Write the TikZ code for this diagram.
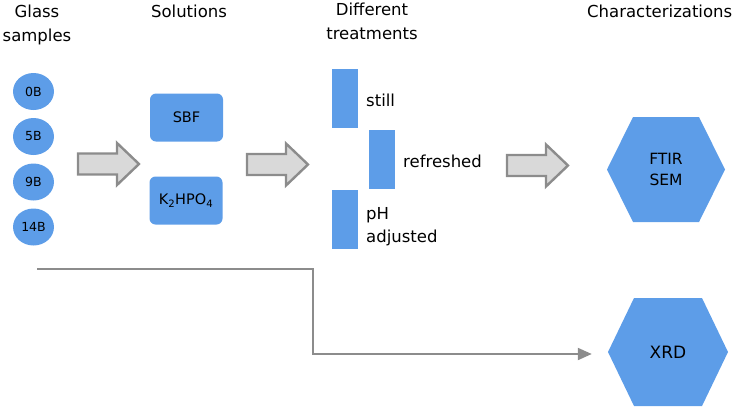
\documentclass[tikz,border=0pt]{standalone}
\usepackage{fontspec}
\setmainfont{DejaVu Sans}
\usetikzlibrary{arrows.meta,calc,shapes.geometric}
\definecolor{boxblue}{RGB}{93,157,232}
\definecolor{arrgray}{RGB}{140,140,140}
\definecolor{arrfill}{RGB}{217,217,217}
\tikzset{
  hdr/.style={align=center,inner sep=0pt,font=\fontsize{16.5}{24}\selectfont},
  sample/.style={ellipse,fill=boxblue,minimum width=41pt,minimum height=37pt,inner sep=0pt,font=\fontsize{12.5}{14}\selectfont},
  solbox/.style={rounded corners=6pt,fill=boxblue,minimum width=73pt,minimum height=48pt,inner sep=0pt,font=\fontsize{14.5}{16}\selectfont},
  bar/.style={fill=boxblue,minimum width=26pt,minimum height=59pt,inner sep=0pt},
  tlabel/.style={anchor=west,align=left,inner sep=0pt,font=\fontsize{16.5}{23}\selectfont},
  hexa/.style={minimum width=#1,inner sep=0pt,align=center,font=\fontsize{15.5}{21}\selectfont,
    path picture={\fill[boxblue] (path picture bounding box.west)
      -- ([xshift=26pt]path picture bounding box.north west)
      -- ([xshift=-26pt]path picture bounding box.north east)
      -- (path picture bounding box.east)
      -- ([xshift=-26pt]path picture bounding box.south east)
      -- ([xshift=26pt]path picture bounding box.south west) -- cycle;}},
  blockarrow/.style={draw=arrgray,fill=arrfill,line width=2.4pt,line join=miter},
  conn/.style={draw=arrgray,line width=2pt,-{Triangle[length=14pt,width=12pt]}}
}
\begin{document}
\begin{tikzpicture}[x=1pt,y=-1pt]
\useasboundingbox (0,0) rectangle (737,408);
% headers
\node[hdr] (h1) at (37,24.5) {Glass\\samples};
\node[hdr] (h2) at (189,11) {Solutions};
\node[hdr] (h3) at (372,21.5) {Different\\treatments};
\node[hdr,anchor=west] (h4) at (587,11) {Characterizations};
% samples
\node[sample] (s0) at (33.5,91.5) {0B};
\node[sample] (s5) at (33.5,136.5) {5B};
\node[sample] (s9) at (33.5,182) {9B};
\node[sample] (s14) at (33.5,227) {14B};
% solutions
\node[solbox] (sbf) at (186.5,117.5) {SBF};
\node[solbox] (khp) at (186,200.5) {K\textsubscript{2}HPO\textsubscript{4}};
% treatments
\node[bar] (b1) at (345,98.5) {};
\node[bar] (b2) at (382,159) {};
\node[bar] (b3) at (345,219) {};
\node[tlabel] (t1) at (366,100) {still};
\node[tlabel] (t2) at (403,161) {refreshed};
\node[tlabel] (t3) at (366,227) {pH\\adjusted};
% characterizations
\node[hexa=118pt,minimum height=105pt] (ftir) at (666,169.5) {FTIR\\SEM};
\node[hexa=120pt,minimum height=108pt,font=\fontsize{17}{20}\selectfont] (xrd) at (668,352) {XRD};
% block arrows
\foreach \x/\y in {78/164, 247/164.5, 507/165.5}{
  \draw[blockarrow] (\x,\y-10.5) -- (\x+39,\y-10.5) -- (\x+39,\y-21) -- (\x+61,\y)
     -- (\x+39,\y+21) -- (\x+39,\y+10.5) -- (\x,\y+10.5) -- cycle;
}
% connector
\coordinate (start) at (37,269);
\coordinate (bend) at (313,354);
\draw[conn] (start) -| (bend) -- ([xshift=-16pt]xrd.west |- bend);
\end{tikzpicture}
\end{document}
